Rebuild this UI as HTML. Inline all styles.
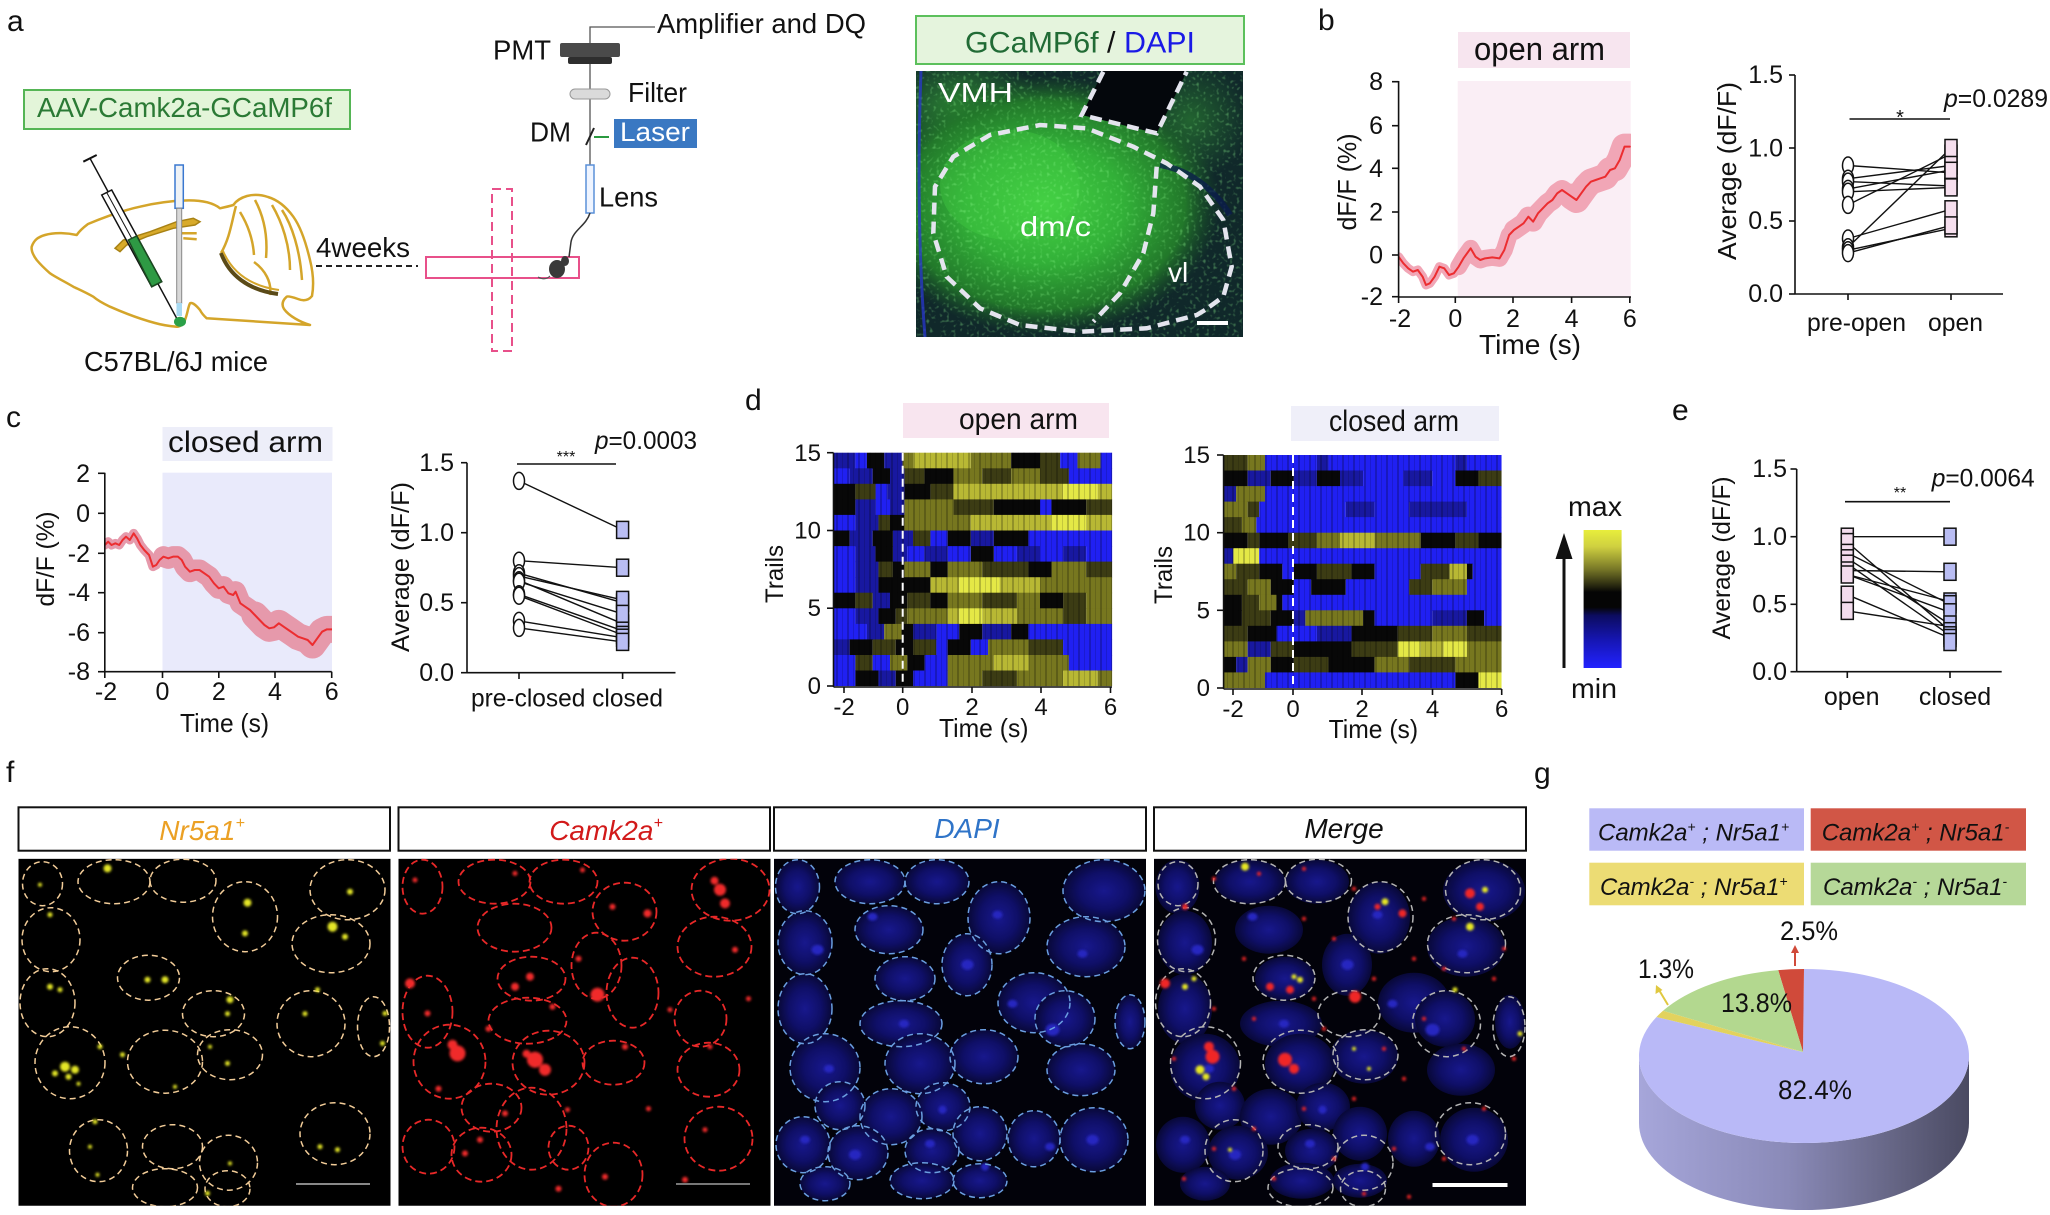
<!DOCTYPE html>
<html><head><meta charset="utf-8">
<style>
html,body{margin:0;padding:0;background:#fff;}
svg{display:block;}
text{font-family:"Liberation Sans",Arial,sans-serif;fill:#111;}
.B{fill:#2020f2}.DB{fill:#1818a0}.K{fill:#080808}.DO{fill:#3c3c14}.O{fill:#77771f}.Y{fill:#b8b834}.YY{fill:#e4e846}
</style></head><body>
<svg width="2050" height="1215" viewBox="0 0 2050 1215" xmlns="http://www.w3.org/2000/svg">
<defs>
<radialGradient id="nuc" cx="50%" cy="50%" r="50%"><stop offset="0" stop-color="#1c1ca4"/><stop offset=".6" stop-color="#121278"/><stop offset="1" stop-color="#0a0a40"/></radialGradient>
<radialGradient id="gg" cx="50%" cy="50%" r="50%"><stop offset="0" stop-color="#44d044"/><stop offset=".45" stop-color="#32b038"/><stop offset=".8" stop-color="#22782a"/><stop offset="1" stop-color="#1a5a26" stop-opacity="0"/></radialGradient>
<radialGradient id="gg2" cx="50%" cy="50%" r="50%"><stop offset="0" stop-color="#2e8c34"/><stop offset="1" stop-color="#2e8c34" stop-opacity="0"/></radialGradient>
<linearGradient id="cbar" x1="0" y1="0" x2="0" y2="1"><stop offset="0" stop-color="#e8ee3c"/><stop offset=".12" stop-color="#cfd040"/><stop offset=".28" stop-color="#7a7a28"/><stop offset=".4" stop-color="#2a2a10"/><stop offset=".45" stop-color="#050505"/><stop offset=".56" stop-color="#050505"/><stop offset=".62" stop-color="#0c0c60"/><stop offset=".8" stop-color="#1616b4"/><stop offset="1" stop-color="#2222ff"/></linearGradient>
<linearGradient id="side" x1="0" y1="0" x2="1" y2="0"><stop offset="0" stop-color="#a6a6da"/><stop offset=".45" stop-color="#8a8ab8"/><stop offset=".75" stop-color="#686888"/><stop offset="1" stop-color="#4a4a62"/></linearGradient>
<pattern id="vs" width="11" height="10" patternUnits="userSpaceOnUse"><rect x="0" width="2" height="10" fill="#000" opacity=".22"/><rect x="6" width="1" height="10" fill="#000" opacity=".14"/></pattern>
<filter id="glow" x="-20%" y="-20%" width="140%" height="140%"><feGaussianBlur stdDeviation="1.2"/></filter>
<filter id="spk" x="0" y="0" width="100%" height="100%"><feTurbulence type="fractalNoise" baseFrequency="0.3" numOctaves="1" seed="4"/><feColorMatrix type="matrix" values="0 0 0 0 0.3  0 0 0 0 1  0 0 0 0 0.3  4 0 0 0 -2.2"/></filter>
<clipPath id="clipB"><rect x="1399" y="60" width="232" height="237"/></clipPath>
<clipPath id="clipC"><rect x="105" y="460" width="227" height="212"/></clipPath>
<clipPath id="clipG"><rect x="916" y="71" width="327" height="266"/></clipPath>
<clipPath id="clipF"><rect x="0" y="0" width="372" height="347"/></clipPath>
<g id="cellsA">
<ellipse cx="24" cy="25" rx="20" ry="22"/><ellipse cx="95.5" cy="23" rx="36" ry="22"/><ellipse cx="164.5" cy="22" rx="33" ry="21.5"/><ellipse cx="226.5" cy="58" rx="32.5" ry="35"/><ellipse cx="329" cy="31" rx="37.5" ry="30"/><ellipse cx="32.5" cy="81" rx="29" ry="32"/><ellipse cx="312.5" cy="85" rx="39" ry="29"/><ellipse cx="130" cy="119" rx="31" ry="22.5"/><ellipse cx="29" cy="144" rx="27.5" ry="34"/><ellipse cx="195" cy="155" rx="31" ry="23"/><ellipse cx="292.5" cy="165" rx="34" ry="33"/><ellipse cx="355" cy="168" rx="16" ry="30"/><ellipse cx="51.5" cy="204" rx="35" ry="36"/><ellipse cx="146.5" cy="203" rx="37.5" ry="31.5"/><ellipse cx="211.5" cy="196" rx="32.5" ry="25"/><ellipse cx="316.5" cy="275" rx="35" ry="31"/><ellipse cx="80" cy="292" rx="29" ry="31"/><ellipse cx="154" cy="288" rx="30" ry="22"/><ellipse cx="210" cy="304" rx="29" ry="27.5"/><ellipse cx="146.5" cy="329" rx="32.5" ry="19"/><ellipse cx="209" cy="330" rx="22.5" ry="18"/>
</g>
<g id="cellsB">
<ellipse cx="24" cy="28" rx="20" ry="27"/><ellipse cx="96" cy="23" rx="36" ry="22"/><ellipse cx="165" cy="23" rx="34" ry="22"/><ellipse cx="332" cy="31" rx="39" ry="31"/><ellipse cx="116" cy="69" rx="37" ry="24"/><ellipse cx="226" cy="53" rx="32" ry="29"/><ellipse cx="316" cy="88" rx="37" ry="30"/><ellipse cx="29" cy="153" rx="25" ry="36"/><ellipse cx="133" cy="120" rx="34" ry="22"/><ellipse cx="198" cy="107" rx="25" ry="33"/><ellipse cx="234" cy="134" rx="26" ry="35"/><ellipse cx="302" cy="160" rx="26" ry="28"/><ellipse cx="129" cy="162" rx="39" ry="23"/><ellipse cx="51" cy="203" rx="36" ry="37"/><ellipse cx="150" cy="204" rx="36" ry="32"/><ellipse cx="215" cy="204" rx="31" ry="22"/><ellipse cx="310" cy="211" rx="31" ry="27"/><ellipse cx="93" cy="249" rx="30" ry="24"/><ellipse cx="133" cy="270" rx="35" ry="41"/><ellipse cx="320" cy="280" rx="34" ry="32"/><ellipse cx="30" cy="288" rx="26" ry="27"/><ellipse cx="83" cy="296" rx="30" ry="27"/><ellipse cx="215" cy="316" rx="29" ry="32"/><ellipse cx="170" cy="289" rx="20" ry="22"/>
</g>
<g id="cellsC">
<ellipse cx="23.5" cy="28" rx="22" ry="27"/><ellipse cx="96" cy="23" rx="35" ry="22"/><ellipse cx="163" cy="23" rx="32" ry="22"/><ellipse cx="225" cy="59" rx="31" ry="36"/><ellipse cx="330" cy="32" rx="41" ry="31"/><ellipse cx="31" cy="84" rx="27" ry="32"/><ellipse cx="115" cy="71" rx="34" ry="24"/><ellipse cx="312" cy="88" rx="39" ry="30"/><ellipse cx="131" cy="120" rx="30" ry="22"/><ellipse cx="193" cy="106" rx="25" ry="31"/><ellipse cx="31" cy="150" rx="27" ry="35"/><ellipse cx="260" cy="144" rx="36" ry="30"/><ellipse cx="127" cy="165" rx="41" ry="23"/><ellipse cx="291" cy="160" rx="30" ry="28"/><ellipse cx="356" cy="163" rx="15" ry="27"/><ellipse cx="51" cy="209" rx="35" ry="34"/><ellipse cx="146" cy="205" rx="35" ry="30"/><ellipse cx="210" cy="198" rx="34" ry="27"/><ellipse cx="307" cy="211" rx="34" ry="26"/><ellipse cx="66" cy="247" rx="25" ry="24"/><ellipse cx="117" cy="258" rx="31" ry="28"/><ellipse cx="169" cy="248" rx="27" ry="24"/><ellipse cx="29" cy="286" rx="27" ry="28"/><ellipse cx="84" cy="294" rx="30" ry="27"/><ellipse cx="158" cy="292" rx="27" ry="22"/><ellipse cx="206" cy="275" rx="27" ry="27"/><ellipse cx="260" cy="280" rx="26" ry="28"/><ellipse cx="320" cy="281" rx="34" ry="32"/><ellipse cx="206" cy="322" rx="27" ry="17"/><ellipse cx="148" cy="322" rx="32" ry="18"/><ellipse cx="51" cy="325" rx="25" ry="17"/>
</g>
<g id="spots">
<ellipse cx="43.5" cy="91" rx="6" ry="5"/><ellipse cx="98.5" cy="58" rx="5" ry="4"/><ellipse cx="193.5" cy="106" rx="6" ry="5"/><ellipse cx="223.5" cy="56" rx="5" ry="4"/><ellipse cx="278.5" cy="171" rx="7" ry="6"/><ellipse cx="238.5" cy="145" rx="5" ry="4"/><ellipse cx="31" cy="281" rx="5" ry="4"/><ellipse cx="81" cy="296" rx="6" ry="5"/><ellipse cx="156" cy="285" rx="5" ry="4"/><ellipse cx="318.5" cy="281" rx="6" ry="5"/><ellipse cx="211" cy="308" rx="4" ry="4"/><ellipse cx="276" cy="288" rx="5" ry="4"/><ellipse cx="308.5" cy="95" rx="5" ry="4"/><ellipse cx="168.5" cy="251" rx="4" ry="4"/><ellipse cx="130" cy="165" rx="5" ry="4"/><ellipse cx="55" cy="210" rx="5" ry="4"/>
</g>
</defs>

<rect width="2050" height="1215" fill="#fff"/>

<g font-size="30">
<text x="7" y="31">a</text><text x="1318" y="30">b</text><text x="6" y="427">c</text><text x="745" y="410">d</text><text x="1672" y="420">e</text><text x="6" y="782">f</text><text x="1534" y="783">g</text>
</g>

<!-- ============ PANEL A ============ -->
<rect x="24" y="90" width="326" height="39" fill="#e3f5d9" stroke="#55b555" stroke-width="2"/>
<text x="37" y="117" font-size="28" style="fill:#2b7a35" textLength="295" lengthAdjust="spacingAndGlyphs">AAV-Camk2a-GCaMP6f</text>

<g fill="none" stroke="#d4a52a" stroke-width="2.5" stroke-linejoin="round">
<path d="M31.7,246.7 C34,240 38,237 45,235 C55,232 68,233 76.7,235 C80,230 84,227 88,224 C100,219 120,211 140,206.7 C155,203 170,201 185,200.5 C200,200 212,202 220,208.3 C226,207 230,206 233.3,205 C236,201 240,198 247,196 C255,194 262,195 268,197 C278,200 287,208 293.3,216.7 C300,226 306,243 310,260 C313,272 314,285 312,296 C308,301 303,301 298,299 C292,297 288,296 286.7,296.7 C283,300 281,304 284,309 C289,316 300,322 310,325 L206.7,318.3 C203,315 201,312 200,310 C196,305 192,302 190,303.3 C188,307 188,312 185,320 C182,325 180,327 176.7,326.7 C168,326 162,325 155,323 C140,319 122,312 110,306.7 C100,302 96,299 93.3,296.7 C85,292 78,289 73.3,286.7 C62,280 55,277 50,273.3 C44,268 40,264 36.7,260 C33,255 31,251 31.7,246.7 Z"/>
<path d="M236,206 C232,220 230,238 221,253"/>
<path d="M240,212 C248,225 253,240 254,255 M255,200 C263,215 268,235 266,258 M272,205 C282,222 290,245 290,270 M282,210 C292,225 300,250 302,280 M254,262 C265,270 272,282 270,295"/>
<path d="M181.7,233.3 L196.7,233.3 M183.3,238.3 L196.7,239.3"/>
</g>
<path d="M221,253 C229,275 248,290 278,294" fill="none" stroke="#5a4a18" stroke-width="4"/>
<path d="M223,251 C232,272 250,286 279,290" fill="none" stroke="#d4a52a" stroke-width="2"/>
<path d="M115,248.3 L123.3,240 L150,231.7 L176.7,221.7 L193.3,218.3 L200,221.7 L195,225 L173.3,228.3 L146.7,236.7 L126.7,245 L120,251.7 Z" fill="#d8aa2a" stroke="#a88214" stroke-width="1.5"/>
<line x1="83.3" y1="161.7" x2="96.7" y2="155" stroke="#111" stroke-width="2"/>
<line x1="90" y1="158.3" x2="176.7" y2="318.3" stroke="#111" stroke-width="1.5"/>
<polygon points="101.7,195 111.7,190 161.7,281.7 151.7,286.7" fill="#fff" stroke="#111" stroke-width="1.5"/>
<line x1="106.7" y1="192.5" x2="156.7" y2="284.2" stroke="#111" stroke-width="1"/>
<polygon points="128.3,240 136.7,236 161.7,281.7 151.7,286.7" fill="#2e9a44" stroke="#1a4a20" stroke-width="1.5"/>
<rect x="175" y="165" width="8.3" height="43.3" fill="#eef2f6" stroke="#3a78d0" stroke-width="1.5"/>
<rect x="176.7" y="208.3" width="5" height="95" fill="#d8d8d8" stroke="#888" stroke-width="1"/>
<rect x="176.5" y="303" width="5.5" height="13" fill="#a8daf2"/>
<ellipse cx="180" cy="321.7" rx="6" ry="5" fill="#2aa048"/>

<text x="84" y="371" font-size="28" textLength="184" lengthAdjust="spacingAndGlyphs">C57BL/6J mice</text>
<line x1="316" y1="266" x2="418" y2="266" stroke="#222" stroke-width="2" stroke-dasharray="6 4"/>
<text x="316" y="257" font-size="28" textLength="94" lengthAdjust="spacingAndGlyphs">4weeks</text>
<rect x="426" y="257" width="153" height="21" fill="none" stroke="#e8508a" stroke-width="2"/>
<rect x="492" y="189" width="20" height="162" fill="none" stroke="#e8508a" stroke-width="2" stroke-dasharray="9 5"/>
<polyline points="590,213 590,27 655,27" fill="none" stroke="#555" stroke-width="1.3"/>
<rect x="560" y="43" width="60" height="14" rx="2" fill="#4a4a4a"/>
<rect x="568" y="57" width="44" height="7" rx="2" fill="#2e2e2e"/>
<rect x="570" y="89" width="40" height="10" rx="5" fill="#dadada" stroke="#999" stroke-width="1"/>
<line x1="586" y1="145" x2="594" y2="128" stroke="#222" stroke-width="2"/>
<line x1="594" y1="137" x2="609" y2="137" stroke="#2a9a40" stroke-width="2"/>
<rect x="614" y="119" width="83" height="29" fill="#3a78c2"/>
<text x="620" y="141" font-size="27" style="fill:#fff" textLength="70" lengthAdjust="spacingAndGlyphs">Laser</text>
<rect x="586" y="165" width="8" height="48" fill="#eef4ff" stroke="#5a90d8" stroke-width="1.5"/>
<path d="M590,213 C586,226 573,230 571,242 L569,257" fill="none" stroke="#333" stroke-width="1.5"/>
<ellipse cx="557" cy="269" rx="8" ry="9" fill="#3a3a3a"/>
<ellipse cx="565" cy="261" rx="4" ry="5" fill="#3a3a3a"/>
<path d="M550,276 Q545,281 538,277" fill="none" stroke="#555" stroke-width="1.2"/>
<text x="493" y="59.5" font-size="28" textLength="58" lengthAdjust="spacingAndGlyphs">PMT</text>
<text x="657" y="33" font-size="28" textLength="209" lengthAdjust="spacingAndGlyphs">Amplifier and DQ</text>
<text x="628" y="102" font-size="28" textLength="59" lengthAdjust="spacingAndGlyphs">Filter</text>
<text x="530" y="141.7" font-size="28" textLength="41" lengthAdjust="spacingAndGlyphs">DM</text>
<text x="599" y="206.7" font-size="28" textLength="59" lengthAdjust="spacingAndGlyphs">Lens</text>

<rect x="916" y="16" width="328" height="48" fill="#e5f4dd" stroke="#5cc05c" stroke-width="2"/>
<text x="965" y="52.7" font-size="30" textLength="230" lengthAdjust="spacingAndGlyphs"><tspan style="fill:#216b35">GCaMP6f</tspan><tspan style="fill:#111"> / </tspan><tspan style="fill:#1a1ae6">DAPI</tspan></text>
<g clip-path="url(#clipG)">
<rect x="916" y="71" width="327" height="266" fill="#10282a"/>
<ellipse cx="960" cy="110" rx="80" ry="60" fill="url(#gg2)"/>
<ellipse cx="1190" cy="120" rx="60" ry="60" fill="url(#gg2)" opacity=".6"/>
<ellipse cx="1045" cy="205" rx="175" ry="130" fill="url(#gg)"/>
<ellipse cx="1010" cy="185" rx="70" ry="55" fill="#46d246" opacity=".35"/>
<rect x="916" y="71" width="327" height="266" filter="url(#spk)" opacity=".35"/>
<path d="M921,71 C918,150 918,250 925,337" fill="none" stroke="#2a36d8" stroke-width="3" opacity=".7"/>
<path d="M1160,165 C1190,170 1215,190 1230,215" fill="none" stroke="#0a1a50" stroke-width="6" opacity=".7"/>
<polygon points="1103.3,71 1187,71 1156.7,133.3 1081.7,115" fill="#04070c"/>
<g fill="none" stroke="#e4e4ee" stroke-width="4.5" stroke-dasharray="12 7">
<polyline points="1103.3,71.7 1081.7,115 1156.7,133.3 1186.7,71.7"/>
<path d="M1205,310 L1196.7,315 L1146.7,328.3 L1080,331.7 L1020,325 L980,308.3 L946.7,276.7 L933.3,233.3 L935,186.7 L953.3,156.7 L990,135 L1040,125 L1086.7,128.3 L1133.3,146.7 L1166.7,163.3 L1200,186.7 L1223.3,220 L1231.7,266.7 L1223.3,296.7 L1205,310"/>
<path d="M1156.7,166.7 L1153.3,213.3 L1143.3,253.3 L1120,293.3 L1093.3,321.7"/>
</g>
<text x="938" y="102" font-size="28" style="fill:#fff" textLength="75" lengthAdjust="spacingAndGlyphs">VMH</text>
<text x="1020" y="236" font-size="28" style="fill:#fff" textLength="71" lengthAdjust="spacingAndGlyphs">dm/c</text>
<text x="1168" y="282" font-size="28" style="fill:#fff">vl</text>
<line x1="1197" y1="323" x2="1228" y2="323" stroke="#fff" stroke-width="4"/>
</g>

<!-- ============ PANEL B ============ -->
<rect x="1458" y="32" width="172" height="36" fill="#f7e5ef"/>
<text x="1474" y="60" font-size="32" textLength="131" lengthAdjust="spacingAndGlyphs">open arm</text>
<rect x="1457.7" y="81" width="173" height="216" fill="#faeef5"/>
<g clip-path="url(#clipB)">
<g transform="translate(1300,0) scale(0.48077,0.33333)" fill="none" stroke-linejoin="round" stroke-linecap="round">
<path vector-effect="non-scaling-stroke" stroke="#f1a6b6" stroke-width="9" d="M205,770 L215,790 L225,805 L235,815 L245,810 L255,830 L262,855 L270,850 L280,830 L290,800 L300,805 L310,825 L320,820 L330,800"/>
<path vector-effect="non-scaling-stroke" stroke="#f1a6b6" stroke-width="17" d="M330,800 L340,775 L355,745 L365,770 L375,780 L385,775 L400,772 L415,775 L425,750 L435,705 L445,690"/>
<path vector-effect="non-scaling-stroke" stroke="#f1a6b6" stroke-width="20" d="M445,690 L455,680 L465,670 L475,650 L485,665 L495,640 L505,625 L515,610 L525,600 L535,580 L545,570 L555,580 L565,590"/>
<path vector-effect="non-scaling-stroke" stroke="#f1a6b6" stroke-width="26" d="M565,590 L575,600 L585,580 L595,560 L605,545 L615,540 L625,535 L635,530 L645,510 L655,505 L665,480 L675,440 L686,440"/>
<path vector-effect="non-scaling-stroke" stroke="#ec2d30" stroke-width="2" d="M205,770 L215,790 L225,805 L235,815 L245,810 L255,830 L262,855 L270,850 L280,830 L290,800 L300,805 L310,825 L320,820 L330,800 L340,775 L355,745 L365,770 L375,780 L385,775 L400,772 L415,775 L425,750 L435,705 L445,690 L455,680 L465,670 L475,650 L485,665 L495,640 L505,625 L515,610 L525,600 L535,580 L545,570 L555,580 L565,590 L575,600 L585,580 L595,560 L605,545 L615,540 L625,535 L635,530 L645,510 L655,505 L665,480 L675,440 L686,440"/>
</g>
</g>
<g stroke="#111" stroke-width="1.6">
<line x1="1398.6" y1="81" x2="1398.6" y2="297"/><line x1="1398.6" y1="297" x2="1631" y2="297"/>
<line x1="1392" y1="81.7" x2="1398.6" y2="81.7"/><line x1="1392" y1="125.7" x2="1398.6" y2="125.7"/><line x1="1392" y1="168.3" x2="1398.6" y2="168.3"/><line x1="1392" y1="212" x2="1398.6" y2="212"/><line x1="1392" y1="255" x2="1398.6" y2="255"/><line x1="1392" y1="296.7" x2="1398.6" y2="296.7"/>
<line x1="1398.6" y1="297" x2="1398.6" y2="303"/><line x1="1455.3" y1="297" x2="1455.3" y2="303"/><line x1="1513" y1="297" x2="1513" y2="303"/><line x1="1571.6" y1="297" x2="1571.6" y2="303"/><line x1="1629.8" y1="297" x2="1629.8" y2="303"/>
</g>
<g font-size="25" text-anchor="end">
<text x="1383" y="90">8</text><text x="1383" y="134">6</text><text x="1383" y="177">4</text><text x="1383" y="220.5">2</text><text x="1383" y="263.5">0</text><text x="1383" y="305">-2</text>
</g>
<g font-size="25" text-anchor="middle">
<text x="1400" y="327">-2</text><text x="1455.3" y="327">0</text><text x="1513" y="327">2</text><text x="1571.6" y="327">4</text><text x="1629.8" y="327">6</text>
</g>
<text x="1530" y="354" font-size="28" text-anchor="middle" textLength="102" lengthAdjust="spacingAndGlyphs">Time (s)</text>
<text transform="translate(1356,182) rotate(-90)" font-size="26" text-anchor="middle" textLength="97" lengthAdjust="spacingAndGlyphs">dF/F (%)</text>

<g stroke="#111" stroke-width="1.6">
<line x1="1795" y1="75" x2="1795" y2="294"/><line x1="1795" y1="294" x2="2003" y2="294"/>
<line x1="1789" y1="75" x2="1795" y2="75"/><line x1="1789" y1="148" x2="1795" y2="148"/><line x1="1789" y1="221" x2="1795" y2="221"/><line x1="1789" y1="294" x2="1795" y2="294"/>
<line x1="1848" y1="294" x2="1848" y2="300"/><line x1="1951" y1="294" x2="1951" y2="300"/>
<line x1="1849.5" y1="119" x2="1950" y2="119"/>
</g>
<g font-size="25" text-anchor="end">
<text x="1783" y="83">1.5</text><text x="1783" y="156.5">1.0</text><text x="1783" y="229">0.5</text><text x="1783" y="302">0.0</text>
</g>
<text x="1900" y="124" font-size="20" text-anchor="middle">*</text>
<text x="1944" y="107" font-size="25" textLength="104" lengthAdjust="spacingAndGlyphs"><tspan font-style="italic">p</tspan>=0.0289</text>
<text x="1807" y="331" font-size="25" textLength="99" lengthAdjust="spacingAndGlyphs">pre-open</text>
<text x="1928" y="331" font-size="25" textLength="55" lengthAdjust="spacingAndGlyphs">open</text>
<text transform="translate(1736,171) rotate(-90)" font-size="26" text-anchor="middle" textLength="178" lengthAdjust="spacingAndGlyphs">Average (dF/F)</text>
<g stroke="#111" stroke-width="1.4">
<line x1="1848" y1="165.5" x2="1951" y2="172.8"/><line x1="1848" y1="178.7" x2="1951" y2="165.5"/><line x1="1848" y1="181.6" x2="1951" y2="186"/><line x1="1848" y1="188.9" x2="1951" y2="169.9"/><line x1="1848" y1="191.8" x2="1951" y2="187.4"/><line x1="1848" y1="204.9" x2="1951" y2="153.8"/><line x1="1848" y1="238.5" x2="1951" y2="209.3"/><line x1="1848" y1="247.3" x2="1951" y2="148"/><line x1="1848" y1="250.2" x2="1951" y2="228.3"/><line x1="1848" y1="253.1" x2="1951" y2="225.4"/>
</g>
<g fill="#fff" stroke="#111" stroke-width="1.5">
<ellipse cx="1848" cy="165.5" rx="5.5" ry="8.5"/><ellipse cx="1848" cy="178.7" rx="5.5" ry="8.5"/><ellipse cx="1848" cy="181.6" rx="5.5" ry="8.5"/><ellipse cx="1848" cy="188.9" rx="5.5" ry="8.5"/><ellipse cx="1848" cy="191.8" rx="5.5" ry="8.5"/><ellipse cx="1848" cy="204.9" rx="5.5" ry="8.5"/><ellipse cx="1848" cy="238.5" rx="5.5" ry="8.5"/><ellipse cx="1848" cy="247.3" rx="5.5" ry="8.5"/><ellipse cx="1848" cy="250.2" rx="5.5" ry="8.5"/><ellipse cx="1848" cy="253.1" rx="5.5" ry="8.5"/>
</g>
<g fill="#f6dfee" stroke="#111" stroke-width="1.5">
<rect x="1945" y="164.3" width="12" height="17"/><rect x="1945" y="157" width="12" height="17"/><rect x="1945" y="177.5" width="12" height="17"/><rect x="1945" y="161.4" width="12" height="17"/><rect x="1945" y="178.9" width="12" height="17"/><rect x="1945" y="145.3" width="12" height="17"/><rect x="1945" y="200.8" width="12" height="17"/><rect x="1945" y="139.5" width="12" height="17"/><rect x="1945" y="219.8" width="12" height="17"/><rect x="1945" y="216.9" width="12" height="17"/>
</g>

<!-- ============ PANEL C ============ -->
<rect x="162.5" y="427" width="170" height="34" fill="#edeef9"/>
<text x="168" y="452" font-size="30" textLength="155" lengthAdjust="spacingAndGlyphs">closed arm</text>
<rect x="162.5" y="472.7" width="169.5" height="199" fill="#e9eafb"/>
<g clip-path="url(#clipC)">
<g transform="translate(0,390) scale(0.48077,0.33333)" fill="none" stroke-linejoin="round" stroke-linecap="round">
<path vector-effect="non-scaling-stroke" stroke="#e699ab" stroke-width="9" d="M218,465 L225,455 L232,465 L240,460 L248,465 L255,450 L262,440 L270,450 L278,430 L285,445 L292,465 L300,480 L310,495 L318,530 L325,525 L332,510 L340,500"/>
<path vector-effect="non-scaling-stroke" stroke="#e699ab" stroke-width="21" d="M340,500 L350,505 L360,500 L370,500 L378,510 L385,530 L395,545 L405,540 L415,540 L425,550 L435,560 L445,580 L455,595 L465,590 L475,610 L485,615 L490,605 L500,640 L510,650 L520,660 L530,675"/>
<path vector-effect="non-scaling-stroke" stroke="#e699ab" stroke-width="27" d="M530,675 L540,690 L550,705 L560,715 L570,712 L580,700 L590,710 L600,720 L610,730 L620,740 L630,745 L640,750 L650,765 L660,745 L670,725 L680,718 L690,718"/>
<path vector-effect="non-scaling-stroke" stroke="#ec2d30" stroke-width="2" d="M218,465 L225,455 L232,465 L240,460 L248,465 L255,450 L262,440 L270,450 L278,430 L285,445 L292,465 L300,480 L310,495 L318,530 L325,525 L332,510 L340,500 L350,505 L360,500 L370,500 L378,510 L385,530 L395,545 L405,540 L415,540 L425,550 L435,560 L445,580 L455,595 L465,590 L475,610 L485,615 L490,605 L500,640 L510,650 L520,660 L530,675 L540,690 L550,705 L560,715 L570,712 L580,700 L590,710 L600,720 L610,730 L620,740 L630,745 L640,750 L650,765 L660,745 L670,725 L680,718 L690,718"/>
</g>
</g>
<g stroke="#111" stroke-width="1.6">
<line x1="104.8" y1="472.7" x2="104.8" y2="671.7"/><line x1="104.8" y1="671.7" x2="331.7" y2="671.7"/>
<line x1="98" y1="473.3" x2="104.8" y2="473.3"/><line x1="98" y1="513.3" x2="104.8" y2="513.3"/><line x1="98" y1="553.3" x2="104.8" y2="553.3"/><line x1="98" y1="592.7" x2="104.8" y2="592.7"/><line x1="98" y1="632.7" x2="104.8" y2="632.7"/><line x1="98" y1="671.7" x2="104.8" y2="671.7"/>
<line x1="104.8" y1="671.7" x2="104.8" y2="678"/><line x1="162.5" y1="671.7" x2="162.5" y2="678"/><line x1="218.8" y1="671.7" x2="218.8" y2="678"/><line x1="275" y1="671.7" x2="275" y2="678"/><line x1="331.7" y1="671.7" x2="331.7" y2="678"/>
</g>
<g font-size="25" text-anchor="end">
<text x="90" y="481.8">2</text><text x="90" y="521.8">0</text><text x="90" y="561.8">-2</text><text x="90" y="601.2">-4</text><text x="90" y="641.2">-6</text><text x="90" y="680.2">-8</text>
</g>
<g font-size="25" text-anchor="middle">
<text x="106" y="700">-2</text><text x="162.5" y="700">0</text><text x="218.8" y="700">2</text><text x="275" y="700">4</text><text x="331.7" y="700">6</text>
</g>
<text x="180" y="732" font-size="26" textLength="89" lengthAdjust="spacingAndGlyphs">Time (s)</text>
<text transform="translate(54,559) rotate(-90)" font-size="25" text-anchor="middle" textLength="95" lengthAdjust="spacingAndGlyphs">dF/F (%)</text>

<g stroke="#111" stroke-width="1.6">
<line x1="467" y1="462.7" x2="467" y2="672.7"/><line x1="467" y1="672.7" x2="675.5" y2="672.7"/>
<line x1="461" y1="462.7" x2="467" y2="462.7"/><line x1="461" y1="532.7" x2="467" y2="532.7"/><line x1="461" y1="602.7" x2="467" y2="602.7"/><line x1="461" y1="672.7" x2="467" y2="672.7"/>
<line x1="519" y1="672.7" x2="519" y2="679"/><line x1="622.6" y1="672.7" x2="622.6" y2="679"/>
<line x1="517" y1="464" x2="616" y2="464"/>
</g>
<g font-size="25" text-anchor="end">
<text x="454" y="471">1.5</text><text x="454" y="541">1.0</text><text x="454" y="611">0.5</text><text x="454" y="681">0.0</text>
</g>
<text x="566" y="462" font-size="16" text-anchor="middle">***</text>
<text x="595" y="449" font-size="25" textLength="102" lengthAdjust="spacingAndGlyphs"><tspan font-style="italic">p</tspan>=0.0003</text>
<text x="471" y="706.7" font-size="25" textLength="192" lengthAdjust="spacingAndGlyphs">pre-closed closed</text>
<text transform="translate(409,567) rotate(-90)" font-size="25" text-anchor="middle" textLength="170" lengthAdjust="spacingAndGlyphs">Average (dF/F)</text>
<g stroke="#111" stroke-width="1.4">
<line x1="519" y1="480.9" x2="622.6" y2="529.9"/><line x1="519" y1="560.7" x2="622.6" y2="567.7"/><line x1="519" y1="573.3" x2="622.6" y2="602.7"/><line x1="519" y1="576.1" x2="622.6" y2="599.9"/><line x1="519" y1="580.3" x2="622.6" y2="623.7"/><line x1="519" y1="581.7" x2="622.6" y2="613.9"/><line x1="519" y1="594.3" x2="622.6" y2="630.7"/><line x1="519" y1="595.7" x2="622.6" y2="634.9"/><line x1="519" y1="620.9" x2="622.6" y2="637.7"/><line x1="519" y1="627.9" x2="622.6" y2="641.9"/>
</g>
<g fill="#fff" stroke="#111" stroke-width="1.5">
<ellipse cx="519" cy="480.9" rx="5.5" ry="8.5"/><ellipse cx="519" cy="560.7" rx="5.5" ry="8.5"/><ellipse cx="519" cy="573.3" rx="5.5" ry="8.5"/><ellipse cx="519" cy="576.1" rx="5.5" ry="8.5"/><ellipse cx="519" cy="580.3" rx="5.5" ry="8.5"/><ellipse cx="519" cy="581.7" rx="5.5" ry="8.5"/><ellipse cx="519" cy="594.3" rx="5.5" ry="8.5"/><ellipse cx="519" cy="595.7" rx="5.5" ry="8.5"/><ellipse cx="519" cy="620.9" rx="5.5" ry="8.5"/><ellipse cx="519" cy="627.9" rx="5.5" ry="8.5"/>
</g>
<g fill="#b9bdf3" stroke="#111" stroke-width="1.5">
<rect x="616.6" y="521.4" width="12" height="17"/><rect x="616.6" y="559.2" width="12" height="17"/><rect x="616.6" y="594.2" width="12" height="17"/><rect x="616.6" y="591.4" width="12" height="17"/><rect x="616.6" y="615.2" width="12" height="17"/><rect x="616.6" y="605.4" width="12" height="17"/><rect x="616.6" y="622.2" width="12" height="17"/><rect x="616.6" y="626.4" width="12" height="17"/><rect x="616.6" y="629.2" width="12" height="17"/><rect x="616.6" y="633.4" width="12" height="17"/>
</g>

<!-- ============ PANEL D ============ -->
<rect x="903" y="403" width="206" height="35" fill="#f8e5ef"/>
<text x="959" y="429" font-size="30" textLength="119" lengthAdjust="spacingAndGlyphs">open arm</text>
<rect x="1291" y="406" width="208" height="35" fill="#efeff9"/>
<text x="1329" y="431" font-size="30" textLength="130" lengthAdjust="spacingAndGlyphs">closed arm</text>

<g transform="translate(740,0) scale(0.57692,1)">
<g transform="translate(0,452.7)"><rect class="DB" x="162" width="38" height="16"/><rect class="B" x="200" width="20" height="16"/><rect class="K" x="220" width="30" height="16"/><rect class="DB" x="250" width="32" height="16"/><rect class="O" x="282" width="18" height="16"/><rect class="Y" x="300" width="100" height="16"/><rect class="O" x="400" width="70" height="16"/><rect class="K" x="470" width="50" height="16"/><rect class="DO" x="520" width="35" height="16"/><rect class="B" x="555" width="30" height="16"/><rect class="O" x="585" width="40" height="16"/><rect class="B" x="625" width="20" height="16"/></g>
<g transform="translate(0,468.3)"><rect class="B" x="162" width="28" height="16"/><rect class="DB" x="190" width="40" height="16"/><rect class="K" x="230" width="30" height="16"/><rect class="DB" x="260" width="25" height="16"/><rect class="DO" x="285" width="35" height="16"/><rect class="K" x="320" width="50" height="16"/><rect class="O" x="370" width="50" height="16"/><rect class="DO" x="420" width="50" height="16"/><rect class="O" x="470" width="50" height="16"/><rect class="DO" x="520" width="50" height="16"/><rect class="B" x="570" width="75" height="16"/></g>
<g transform="translate(0,483.8)"><rect class="K" x="162" width="38" height="16"/><rect class="DO" x="200" width="35" height="16"/><rect class="B" x="235" width="20" height="16"/><rect class="DB" x="255" width="30" height="16"/><rect class="K" x="285" width="45" height="16"/><rect class="DO" x="330" width="40" height="16"/><rect class="Y" x="370" width="190" height="16"/><rect class="YY" x="560" width="60" height="16"/><rect class="Y" x="620" width="25" height="16"/></g>
<g transform="translate(0,499.4)"><rect class="K" x="162" width="38" height="16"/><rect class="DB" x="200" width="35" height="16"/><rect class="B" x="235" width="25" height="16"/><rect class="DB" x="260" width="25" height="16"/><rect class="O" x="285" width="85" height="16"/><rect class="DO" x="370" width="70" height="16"/><rect class="K" x="440" width="80" height="16"/><rect class="B" x="520" width="20" height="16"/><rect class="K" x="540" width="60" height="16"/><rect class="DO" x="600" width="45" height="16"/></g>
<g transform="translate(0,514.9)"><rect class="B" x="162" width="38" height="16"/><rect class="DB" x="200" width="40" height="16"/><rect class="DO" x="240" width="20" height="16"/><rect class="K" x="260" width="25" height="16"/><rect class="O" x="285" width="115" height="16"/><rect class="Y" x="400" width="140" height="16"/><rect class="YY" x="540" width="60" height="16"/><rect class="Y" x="600" width="45" height="16"/></g>
<g transform="translate(0,530.5)"><rect class="K" x="162" width="28" height="16"/><rect class="DB" x="190" width="40" height="16"/><rect class="K" x="230" width="35" height="16"/><rect class="DB" x="265" width="35" height="16"/><rect class="DO" x="300" width="30" height="16"/><rect class="B" x="330" width="30" height="16"/><rect class="K" x="360" width="40" height="16"/><rect class="DB" x="400" width="40" height="16"/><rect class="K" x="440" width="60" height="16"/><rect class="B" x="500" width="145" height="16"/></g>
<g transform="translate(0,546.1)"><rect class="B" x="162" width="38" height="16"/><rect class="DB" x="200" width="35" height="16"/><rect class="K" x="235" width="30" height="16"/><rect class="DB" x="265" width="25" height="16"/><rect class="B" x="290" width="30" height="16"/><rect class="DB" x="320" width="40" height="16"/><rect class="B" x="360" width="40" height="16"/><rect class="K" x="400" width="40" height="16"/><rect class="B" x="440" width="40" height="16"/><rect class="DB" x="480" width="40" height="16"/><rect class="B" x="520" width="40" height="16"/><rect class="DB" x="560" width="40" height="16"/><rect class="B" x="600" width="45" height="16"/></g>
<g transform="translate(0,561.6)"><rect class="B" x="162" width="38" height="16"/><rect class="DB" x="200" width="40" height="16"/><rect class="DO" x="240" width="25" height="16"/><rect class="K" x="265" width="20" height="16"/><rect class="O" x="285" width="45" height="16"/><rect class="K" x="330" width="30" height="16"/><rect class="O" x="360" width="60" height="16"/><rect class="DO" x="420" width="80" height="16"/><rect class="K" x="500" width="40" height="16"/><rect class="O" x="540" width="60" height="16"/><rect class="DO" x="600" width="45" height="16"/></g>
<g transform="translate(0,577.2)"><rect class="B" x="162" width="38" height="16"/><rect class="DB" x="200" width="40" height="16"/><rect class="K" x="240" width="90" height="16"/><rect class="Y" x="330" width="50" height="16"/><rect class="YY" x="380" width="70" height="16"/><rect class="Y" x="450" width="70" height="16"/><rect class="O" x="520" width="125" height="16"/></g>
<g transform="translate(0,592.7)"><rect class="K" x="162" width="38" height="16"/><rect class="DO" x="200" width="30" height="16"/><rect class="DB" x="230" width="30" height="16"/><rect class="K" x="260" width="30" height="16"/><rect class="DO" x="290" width="40" height="16"/><rect class="K" x="330" width="30" height="16"/><rect class="O" x="360" width="60" height="16"/><rect class="DO" x="420" width="60" height="16"/><rect class="O" x="480" width="40" height="16"/><rect class="K" x="520" width="40" height="16"/><rect class="DO" x="560" width="40" height="16"/><rect class="O" x="600" width="45" height="16"/></g>
<g transform="translate(0,608.3)"><rect class="B" x="162" width="38" height="16"/><rect class="DB" x="200" width="40" height="16"/><rect class="K" x="240" width="30" height="16"/><rect class="DO" x="270" width="20" height="16"/><rect class="O" x="290" width="70" height="16"/><rect class="Y" x="360" width="20" height="16"/><rect class="YY" x="380" width="40" height="16"/><rect class="Y" x="420" width="60" height="16"/><rect class="O" x="480" width="80" height="16"/><rect class="DO" x="560" width="40" height="16"/><rect class="O" x="600" width="45" height="16"/></g>
<g transform="translate(0,623.9)"><rect class="B" x="162" width="58" height="16"/><rect class="DB" x="220" width="30" height="16"/><rect class="O" x="250" width="30" height="16"/><rect class="K" x="280" width="20" height="16"/><rect class="DB" x="300" width="40" height="16"/><rect class="B" x="340" width="40" height="16"/><rect class="K" x="380" width="40" height="16"/><rect class="DB" x="420" width="50" height="16"/><rect class="K" x="470" width="30" height="16"/><rect class="B" x="500" width="145" height="16"/></g>
<g transform="translate(0,639.4)"><rect class="DB" x="162" width="28" height="16"/><rect class="K" x="190" width="40" height="16"/><rect class="DO" x="230" width="40" height="16"/><rect class="K" x="270" width="30" height="16"/><rect class="DO" x="300" width="40" height="16"/><rect class="B" x="340" width="20" height="16"/><rect class="K" x="360" width="40" height="16"/><rect class="B" x="400" width="30" height="16"/><rect class="O" x="430" width="70" height="16"/><rect class="DO" x="500" width="60" height="16"/><rect class="B" x="560" width="85" height="16"/></g>
<g transform="translate(0,655)"><rect class="B" x="162" width="38" height="16"/><rect class="DO" x="200" width="30" height="16"/><rect class="B" x="230" width="30" height="16"/><rect class="O" x="260" width="30" height="16"/><rect class="K" x="290" width="30" height="16"/><rect class="B" x="320" width="40" height="16"/><rect class="O" x="360" width="80" height="16"/><rect class="Y" x="440" width="60" height="16"/><rect class="O" x="500" width="70" height="16"/><rect class="B" x="570" width="75" height="16"/></g>
<g transform="translate(0,670.5)"><rect class="B" x="162" width="38" height="15.6"/><rect class="K" x="200" width="40" height="15.6"/><rect class="DB" x="240" width="30" height="15.6"/><rect class="K" x="270" width="30" height="15.6"/><rect class="B" x="300" width="60" height="15.6"/><rect class="O" x="360" width="60" height="15.6"/><rect class="DO" x="420" width="60" height="15.6"/><rect class="O" x="480" width="80" height="15.6"/><rect class="Y" x="560" width="60" height="15.6"/><rect class="O" x="620" width="25" height="15.6"/></g>

<g transform="translate(0,455)"><rect class="DO" x="838" width="42" height="16"/><rect class="O" x="880" width="30" height="16"/><rect class="B" x="910" width="90" height="16"/><rect class="DB" x="1000" width="20" height="16"/><rect class="B" x="1020" width="220" height="16"/><rect class="DB" x="1240" width="20" height="16"/><rect class="B" x="1260" width="60" height="16"/></g>
<g transform="translate(0,470.5)"><rect class="K" x="838" width="42" height="16"/><rect class="DB" x="880" width="40" height="16"/><rect class="K" x="920" width="40" height="16"/><rect class="DB" x="960" width="40" height="16"/><rect class="K" x="1000" width="40" height="16"/><rect class="DB" x="1040" width="40" height="16"/><rect class="B" x="1080" width="70" height="16"/><rect class="DB" x="1150" width="50" height="16"/><rect class="B" x="1200" width="40" height="16"/><rect class="K" x="1240" width="40" height="16"/><rect class="DO" x="1280" width="40" height="16"/></g>
<g transform="translate(0,486.1)"><rect class="DB" x="838" width="22" height="16"/><rect class="O" x="860" width="50" height="16"/><rect class="B" x="910" width="410" height="16"/></g>
<g transform="translate(0,501.6)"><rect class="O" x="838" width="42" height="16"/><rect class="DO" x="880" width="20" height="16"/><rect class="B" x="900" width="150" height="16"/><rect class="DB" x="1050" width="50" height="16"/><rect class="B" x="1100" width="60" height="16"/><rect class="DB" x="1160" width="100" height="16"/><rect class="B" x="1260" width="60" height="16"/></g>
<g transform="translate(0,517.1)"><rect class="DO" x="838" width="32" height="16"/><rect class="O" x="870" width="25" height="16"/><rect class="B" x="895" width="425" height="16"/></g>
<g transform="translate(0,532.7)"><rect class="K" x="838" width="42" height="16"/><rect class="DO" x="880" width="20" height="16"/><rect class="K" x="900" width="50" height="16"/><rect class="DO" x="950" width="50" height="16"/><rect class="O" x="1000" width="40" height="16"/><rect class="Y" x="1040" width="60" height="16"/><rect class="O" x="1100" width="80" height="16"/><rect class="K" x="1180" width="60" height="16"/><rect class="DO" x="1240" width="40" height="16"/><rect class="K" x="1280" width="40" height="16"/></g>
<g transform="translate(0,548.2)"><rect class="DB" x="838" width="17" height="16"/><rect class="YY" x="855" width="45" height="16"/><rect class="B" x="900" width="420" height="16"/></g>
<g transform="translate(0,563.7)"><rect class="O" x="838" width="22" height="16"/><rect class="DO" x="860" width="40" height="16"/><rect class="K" x="900" width="40" height="16"/><rect class="B" x="940" width="20" height="16"/><rect class="K" x="960" width="40" height="16"/><rect class="DO" x="1000" width="60" height="16"/><rect class="K" x="1060" width="40" height="16"/><rect class="B" x="1100" width="80" height="16"/><rect class="DO" x="1180" width="50" height="16"/><rect class="Y" x="1230" width="30" height="16"/><rect class="K" x="1260" width="10" height="16"/><rect class="B" x="1270" width="50" height="16"/></g>
<g transform="translate(0,579.2)"><rect class="DO" x="838" width="42" height="16"/><rect class="O" x="880" width="40" height="16"/><rect class="K" x="920" width="40" height="16"/><rect class="B" x="960" width="30" height="16"/><rect class="K" x="990" width="60" height="16"/><rect class="B" x="1050" width="110" height="16"/><rect class="DO" x="1160" width="40" height="16"/><rect class="O" x="1200" width="60" height="16"/><rect class="B" x="1260" width="60" height="16"/></g>
<g transform="translate(0,594.8)"><rect class="K" x="838" width="32" height="16"/><rect class="DO" x="870" width="30" height="16"/><rect class="O" x="900" width="30" height="16"/><rect class="K" x="930" width="10" height="16"/><rect class="B" x="940" width="380" height="16"/></g>
<g transform="translate(0,610.3)"><rect class="K" x="838" width="32" height="16"/><rect class="DO" x="870" width="50" height="16"/><rect class="K" x="920" width="40" height="16"/><rect class="DB" x="960" width="20" height="16"/><rect class="O" x="980" width="100" height="16"/><rect class="K" x="1080" width="20" height="16"/><rect class="B" x="1100" width="100" height="16"/><rect class="DB" x="1200" width="60" height="16"/><rect class="K" x="1260" width="30" height="16"/><rect class="B" x="1290" width="30" height="16"/></g>
<g transform="translate(0,625.8)"><rect class="DO" x="838" width="42" height="16"/><rect class="K" x="880" width="50" height="16"/><rect class="B" x="930" width="70" height="16"/><rect class="DB" x="1000" width="60" height="16"/><rect class="K" x="1060" width="80" height="16"/><rect class="DO" x="1140" width="60" height="16"/><rect class="O" x="1200" width="60" height="16"/><rect class="DO" x="1260" width="60" height="16"/></g>
<g transform="translate(0,641.4)"><rect class="O" x="838" width="42" height="16"/><rect class="DB" x="880" width="40" height="16"/><rect class="DO" x="920" width="40" height="16"/><rect class="K" x="960" width="100" height="16"/><rect class="DO" x="1060" width="80" height="16"/><rect class="YY" x="1140" width="40" height="16"/><rect class="Y" x="1180" width="40" height="16"/><rect class="YY" x="1220" width="40" height="16"/><rect class="O" x="1260" width="60" height="16"/></g>
<g transform="translate(0,656.9)"><rect class="K" x="838" width="22" height="16"/><rect class="DB" x="860" width="20" height="16"/><rect class="O" x="880" width="40" height="16"/><rect class="K" x="920" width="40" height="16"/><rect class="DO" x="960" width="60" height="16"/><rect class="K" x="1020" width="80" height="16"/><rect class="O" x="1100" width="60" height="16"/><rect class="DO" x="1160" width="80" height="16"/><rect class="O" x="1240" width="80" height="16"/></g>
<g transform="translate(0,672.4)"><rect class="O" x="838" width="72" height="15.6"/><rect class="B" x="910" width="330" height="15.6"/><rect class="K" x="1240" width="40" height="15.6"/><rect class="YY" x="1280" width="40" height="15.6"/></g>
</g>
<rect x="833.5" y="452.7" width="278.5" height="233.4" fill="url(#vs)"/>
<rect x="1223.6" y="455" width="278.1" height="233" fill="url(#vs)"/>
<line x1="902.7" y1="452.7" x2="902.7" y2="686" stroke="#fff" stroke-width="2" stroke-dasharray="8 5"/>
<line x1="1293" y1="455" x2="1293" y2="688" stroke="#fff" stroke-width="2" stroke-dasharray="8 5"/>
<g stroke="#111" stroke-width="1.6">
<line x1="833.5" y1="452.7" x2="833.5" y2="687"/><line x1="833.5" y1="687" x2="1112" y2="687"/>
<line x1="827" y1="452.7" x2="833.5" y2="452.7"/><line x1="827" y1="530.5" x2="833.5" y2="530.5"/><line x1="827" y1="608.2" x2="833.5" y2="608.2"/><line x1="827" y1="686" x2="833.5" y2="686"/>
<line x1="844" y1="687" x2="844" y2="693"/><line x1="902.7" y1="687" x2="902.7" y2="693"/><line x1="972" y1="687" x2="972" y2="693"/><line x1="1041" y1="687" x2="1041" y2="693"/><line x1="1110.5" y1="687" x2="1110.5" y2="693"/>
<line x1="1223.6" y1="455" x2="1223.6" y2="689"/><line x1="1223.6" y1="689" x2="1501.7" y2="689"/>
<line x1="1217" y1="455" x2="1223.6" y2="455"/><line x1="1217" y1="532.7" x2="1223.6" y2="532.7"/><line x1="1217" y1="610.3" x2="1223.6" y2="610.3"/><line x1="1217" y1="688" x2="1223.6" y2="688"/>
<line x1="1233" y1="689" x2="1233" y2="695"/><line x1="1293" y1="689" x2="1293" y2="695"/><line x1="1362" y1="689" x2="1362" y2="695"/><line x1="1432.5" y1="689" x2="1432.5" y2="695"/><line x1="1501.7" y1="689" x2="1501.7" y2="695"/>
</g>
<g font-size="24" text-anchor="end">
<text x="821" y="461">15</text><text x="821" y="538.5">10</text><text x="821" y="616.2">5</text><text x="821" y="694">0</text>
<text x="1210" y="463">15</text><text x="1210" y="540.7">10</text><text x="1210" y="618.3">5</text><text x="1210" y="696">0</text>
</g>
<g font-size="24" text-anchor="middle">
<text x="844" y="715">-2</text><text x="902.7" y="715">0</text><text x="972" y="715">2</text><text x="1041" y="715">4</text><text x="1110.5" y="715">6</text>
<text x="1233" y="717">-2</text><text x="1293" y="717">0</text><text x="1362" y="717">2</text><text x="1432.5" y="717">4</text><text x="1501.7" y="717">6</text>
</g>
<text x="939" y="737" font-size="26" textLength="89.5" lengthAdjust="spacingAndGlyphs">Time (s)</text>
<text x="1328.6" y="738" font-size="26" textLength="89.5" lengthAdjust="spacingAndGlyphs">Time (s)</text>
<text transform="translate(783,574) rotate(-90)" font-size="25" text-anchor="middle" textLength="58" lengthAdjust="spacingAndGlyphs">Trails</text>
<text transform="translate(1172,575) rotate(-90)" font-size="25" text-anchor="middle" textLength="58" lengthAdjust="spacingAndGlyphs">Trails</text>
<rect x="1583.6" y="530" width="38" height="138" fill="url(#cbar)"/>
<line x1="1564" y1="668" x2="1564" y2="552" stroke="#111" stroke-width="3"/>
<polygon points="1564,533 1555.5,559 1572.5,559" fill="#111"/>
<text x="1568" y="516" font-size="28" textLength="54" lengthAdjust="spacingAndGlyphs">max</text>
<text x="1571" y="698" font-size="28" textLength="46" lengthAdjust="spacingAndGlyphs">min</text>

<!-- ============ PANEL E ============ -->
<g stroke="#111" stroke-width="1.6">
<line x1="1796.7" y1="469" x2="1796.7" y2="671.7"/><line x1="1796.7" y1="671.7" x2="2001.7" y2="671.7"/>
<line x1="1790.5" y1="469" x2="1796.7" y2="469"/><line x1="1790.5" y1="536.7" x2="1796.7" y2="536.7"/><line x1="1790.5" y1="604.3" x2="1796.7" y2="604.3"/><line x1="1790.5" y1="671.7" x2="1796.7" y2="671.7"/>
<line x1="1847.3" y1="671.7" x2="1847.3" y2="678"/><line x1="1950" y1="671.7" x2="1950" y2="678"/>
<line x1="1845" y1="501.7" x2="1950" y2="501.7"/>
</g>
<g font-size="25" text-anchor="end">
<text x="1787" y="477">1.5</text><text x="1787" y="545">1.0</text><text x="1787" y="612.5">0.5</text><text x="1787" y="680">0.0</text>
</g>
<text x="1900" y="498" font-size="16" text-anchor="middle">**</text>
<text x="1931.7" y="486.7" font-size="25" textLength="103" lengthAdjust="spacingAndGlyphs"><tspan font-style="italic">p</tspan>=0.0064</text>
<text x="1851.7" y="705" font-size="25" text-anchor="middle">open</text>
<text x="1955" y="705" font-size="25" text-anchor="middle">closed</text>
<text transform="translate(1730,558) rotate(-90)" font-size="25" text-anchor="middle" textLength="163" lengthAdjust="spacingAndGlyphs">Average (dF/F)</text>
<g stroke="#111" stroke-width="1.4">
<line x1="1847.3" y1="536.7" x2="1950" y2="536.7"/><line x1="1847.3" y1="542.1" x2="1950" y2="631.2"/><line x1="1847.3" y1="552.9" x2="1950" y2="604.2"/><line x1="1847.3" y1="558.3" x2="1950" y2="624.5"/><line x1="1847.3" y1="563.7" x2="1950" y2="635.3"/><line x1="1847.3" y1="570.5" x2="1950" y2="571.8"/><line x1="1847.3" y1="574.5" x2="1950" y2="601.5"/><line x1="1847.3" y1="574.5" x2="1950" y2="612.3"/><line x1="1847.3" y1="594.7" x2="1950" y2="638"/><line x1="1847.3" y1="610.9" x2="1950" y2="626.6"/>
</g>
<g fill="#f3dced" stroke="#111" stroke-width="1.5">
<rect x="1841.3" y="528.2" width="12" height="17"/><rect x="1841.3" y="533.6" width="12" height="17"/><rect x="1841.3" y="544.4" width="12" height="17"/><rect x="1841.3" y="549.8" width="12" height="17"/><rect x="1841.3" y="555.2" width="12" height="17"/><rect x="1841.3" y="562" width="12" height="17"/><rect x="1841.3" y="566" width="12" height="17"/><rect x="1841.3" y="586.2" width="12" height="17"/><rect x="1841.3" y="602.4" width="12" height="17"/>
</g>
<g fill="#b9bdf3" stroke="#111" stroke-width="1.5">
<rect x="1944" y="528.2" width="12" height="17"/><rect x="1944" y="563.3" width="12" height="17"/><rect x="1944" y="593" width="12" height="17"/><rect x="1944" y="595.7" width="12" height="17"/><rect x="1944" y="603.8" width="12" height="17"/><rect x="1944" y="616" width="12" height="17"/><rect x="1944" y="622.7" width="12" height="17"/><rect x="1944" y="626.8" width="12" height="17"/><rect x="1944" y="629.5" width="12" height="17"/><rect x="1944" y="633.5" width="12" height="17"/>
</g>

<!-- ============ PANEL F ============ -->
<g fill="#fff" stroke="#111" stroke-width="2">
<rect x="18.5" y="807.3" width="371.5" height="43.4"/><rect x="398.5" y="807.3" width="371.5" height="43.4"/><rect x="774" y="807.3" width="372" height="43.4"/><rect x="1154" y="807.3" width="372" height="43.4"/>
</g>
<text x="202" y="840" font-size="28" font-style="italic" text-anchor="middle" style="fill:#eba024">Nr5a1<tspan font-size="16" dy="-12">+</tspan></text>
<text x="606" y="840" font-size="28" font-style="italic" text-anchor="middle" style="fill:#d21a1a">Camk2a<tspan font-size="16" dy="-12">+</tspan></text>
<text x="967" y="838" font-size="28" font-style="italic" text-anchor="middle" style="fill:#2f74c8">DAPI</text>
<text x="1344" y="838" font-size="28" font-style="italic" text-anchor="middle">Merge</text>

<g transform="translate(18.5,858.7)" clip-path="url(#clipF)">
<rect width="372" height="348" fill="#000"/>
<use href="#cellsA" fill="none" stroke="#f2cc98" stroke-width="1.5" stroke-dasharray="6 4"/>
<g fill="#e4e626" filter="url(#glow)">
<circle cx="89" cy="9.7" r="4"/><circle cx="21.5" cy="26" r="2"/><circle cx="229" cy="44" r="4"/><circle cx="226.5" cy="74.7" r="3"/><circle cx="331.5" cy="33" r="3"/><circle cx="314" cy="68" r="5"/><circle cx="326.5" cy="78" r="3"/><circle cx="31.5" cy="56" r="2.5"/><circle cx="129" cy="121" r="3"/><circle cx="146.5" cy="121" r="3.5"/><circle cx="31.5" cy="128" r="3"/><circle cx="41.5" cy="131" r="2.5"/><circle cx="211.5" cy="141" r="3.5"/><circle cx="209" cy="155" r="2.5"/><circle cx="299" cy="131" r="2.5"/><circle cx="286.5" cy="155" r="2.5"/><circle cx="364" cy="184.7" r="2.5"/><circle cx="366.5" cy="154.7" r="2.5"/><circle cx="46.5" cy="208" r="5"/><circle cx="56.5" cy="211" r="4"/><circle cx="36.5" cy="214.7" r="3"/><circle cx="81.5" cy="188" r="2.5"/><circle cx="104" cy="196" r="2.5"/><circle cx="191.5" cy="188" r="2"/><circle cx="209" cy="204.7" r="2.5"/><circle cx="156.5" cy="228" r="2"/><circle cx="76.5" cy="263" r="2.5"/><circle cx="71.5" cy="288" r="2"/><circle cx="79" cy="316" r="2"/><circle cx="301.5" cy="288" r="2.5"/><circle cx="319" cy="291" r="2.5"/><circle cx="189" cy="334.7" r="2.5"/><circle cx="211.5" cy="304.7" r="2"/><circle cx="50" cy="218" r="3"/><circle cx="60" cy="225" r="2"/>
</g>
<line x1="277.5" y1="325.3" x2="351.5" y2="325.3" stroke="#888" stroke-width="2"/>
</g>
<g transform="translate(398.5,858.7)" clip-path="url(#clipF)">
<rect width="372" height="348" fill="#000"/>
<use href="#cellsB" fill="none" stroke="#e82828" stroke-width="1.8" stroke-dasharray="7 4"/>
<g fill="#f02a2a" filter="url(#glow)">
<circle cx="59" cy="194.7" r="8"/><circle cx="54" cy="186" r="5"/><circle cx="136.5" cy="201" r="8"/><circle cx="146.5" cy="211" r="6"/><circle cx="128" cy="195" r="4"/><circle cx="199" cy="136" r="7"/><circle cx="321.5" cy="31" r="6"/><circle cx="326.5" cy="44.7" r="5"/><circle cx="316" cy="22" r="4"/><circle cx="249" cy="54.7" r="4"/><circle cx="214" cy="48" r="3"/><circle cx="116.5" cy="128" r="4"/><circle cx="131.5" cy="118" r="4"/><circle cx="154" cy="148" r="3"/><circle cx="11.5" cy="124.7" r="5"/><circle cx="16.5" cy="21.3" r="2.5"/><circle cx="116.5" cy="14.7" r="2.5"/><circle cx="184" cy="11.3" r="2.5"/><circle cx="336.5" cy="91" r="3"/><circle cx="29" cy="154.7" r="3"/><circle cx="81.5" cy="281" r="3"/><circle cx="66.5" cy="294.7" r="3"/><circle cx="206.5" cy="318" r="3"/><circle cx="286.5" cy="321" r="3"/><circle cx="306.5" cy="271" r="2.5"/><circle cx="106.5" cy="254.7" r="3"/><circle cx="169" cy="251" r="2.5"/><circle cx="226.5" cy="188" r="3"/><circle cx="271.5" cy="151" r="2.5"/><circle cx="311.5" cy="188" r="2.5"/><circle cx="90" cy="170" r="3"/><circle cx="40" cy="230" r="3"/><circle cx="180" cy="100" r="3"/><circle cx="350" cy="140" r="2.5"/><circle cx="250" cy="250" r="2.5"/><circle cx="160" cy="330" r="3"/>
</g>
<line x1="277.5" y1="325.3" x2="351.5" y2="325.3" stroke="#777" stroke-width="2"/>
</g>
<g transform="translate(774,858.7)" clip-path="url(#clipF)">
<rect width="372" height="348" fill="#02020a"/>
<use href="#cellsC" fill="url(#nuc)" opacity=".85"/>
<use href="#spots" fill="#2626c0" filter="url(#glow)"/>
<use href="#cellsC" fill="none" stroke="#6a9ee0" stroke-width="1.5" stroke-dasharray="6 4"/>
</g>
<g transform="translate(1154,858.7)" clip-path="url(#clipF)">
<rect width="372" height="348" fill="#02020a"/>
<use href="#cellsC" fill="url(#nuc)" opacity=".85"/>
<use href="#spots" fill="#2626c0" filter="url(#glow)"/>
<use href="#cellsA" fill="none" stroke="#b4b4b4" stroke-width="1.5" stroke-dasharray="6 4"/>
<g fill="#f02626" filter="url(#glow)">
<circle cx="58.5" cy="198" r="7"/><circle cx="55" cy="188" r="5"/><circle cx="131" cy="201" r="7"/><circle cx="140" cy="210" r="5"/><circle cx="201" cy="138" r="6"/><circle cx="316" cy="34.7" r="5"/><circle cx="326" cy="48" r="4"/><circle cx="248.5" cy="54.7" r="4"/><circle cx="116" cy="128" r="4"/><circle cx="136" cy="131" r="4"/><circle cx="11" cy="124.7" r="5"/><circle cx="31" cy="48" r="3"/><circle cx="223.5" cy="48" r="3"/>
<circle cx="60" cy="20" r="2"/><circle cx="105" cy="15" r="2"/><circle cx="150" cy="10" r="2"/><circle cx="200" cy="30" r="2"/><circle cx="270" cy="40" r="2"/><circle cx="300" cy="60" r="2"/><circle cx="350" cy="90" r="2"/><circle cx="340" cy="120" r="2"/><circle cx="290" cy="110" r="2"/><circle cx="260" cy="100" r="2"/><circle cx="180" cy="80" r="2"/><circle cx="150" cy="60" r="2"/><circle cx="90" cy="100" r="2"/><circle cx="60" cy="150" r="2"/><circle cx="100" cy="160" r="2"/><circle cx="170" cy="170" r="2"/><circle cx="230" cy="190" r="2"/><circle cx="250" cy="220" r="2"/><circle cx="200" cy="240" r="2"/><circle cx="150" cy="250" r="2"/><circle cx="100" cy="270" r="2"/><circle cx="60" cy="290" r="2"/><circle cx="30" cy="320" r="2"/><circle cx="120" cy="320" r="2"/><circle cx="180" cy="300" r="2"/><circle cx="240" cy="290" r="2"/><circle cx="290" cy="300" r="2"/><circle cx="330" cy="250" r="2"/><circle cx="360" cy="200" r="2"/><circle cx="20" cy="200" r="2"/><circle cx="80" cy="230" r="2"/><circle cx="220" cy="120" r="2"/><circle cx="160" cy="140" r="2"/><circle cx="270" cy="160" r="2"/><circle cx="310" cy="190" r="2"/><circle cx="210" cy="335" r="2"/><circle cx="255" cy="338" r="2"/>
</g>
<g fill="#e8e820" filter="url(#glow)">
<circle cx="91" cy="8" r="4"/><circle cx="231" cy="43" r="3.5"/><circle cx="316" cy="68" r="4"/><circle cx="331" cy="31" r="3"/><circle cx="46" cy="211" r="4.5"/><circle cx="52" cy="218" r="3.5"/><circle cx="31" cy="128" r="3"/><circle cx="146" cy="121" r="3"/><circle cx="140" cy="118" r="2.5"/><circle cx="301" cy="131" r="2.5"/><circle cx="366" cy="175" r="2.5"/><circle cx="76" cy="291" r="2"/><circle cx="200" cy="190" r="2"/><circle cx="215" cy="210" r="2"/><circle cx="40" cy="120" r="2.5"/>
</g>
<line x1="278.5" y1="326.3" x2="353.5" y2="326.3" stroke="#fff" stroke-width="4"/>
</g>

<!-- ============ PANEL G ============ -->
<rect x="1589.3" y="808.3" width="214.7" height="42.4" fill="#babaf6"/>
<rect x="1810.7" y="808.3" width="215.3" height="42.4" fill="#d15646"/>
<rect x="1589.3" y="862.7" width="214.7" height="42.6" fill="#ecdc74"/>
<rect x="1810.7" y="862.7" width="215.3" height="42.6" fill="#b6d898"/>
<g font-size="24" font-style="italic">
<text x="1598" y="840.7">Camk2a<tspan font-size="14" dy="-9">+</tspan><tspan dy="9"> ; Nr5a1</tspan><tspan font-size="14" dy="-9">+</tspan></text>
<text x="1821.7" y="840.7">Camk2a<tspan font-size="14" dy="-9">+</tspan><tspan dy="9"> ; Nr5a1</tspan><tspan font-size="14" dy="-9">-</tspan></text>
<text x="1600" y="895">Camk2a<tspan font-size="14" dy="-9">-</tspan><tspan dy="9"> ; Nr5a1</tspan><tspan font-size="14" dy="-9">+</tspan></text>
<text x="1823" y="895">Camk2a<tspan font-size="14" dy="-9">-</tspan><tspan dy="9"> ; Nr5a1</tspan><tspan font-size="14" dy="-9">-</tspan></text>
</g>
<path d="M1639,1056 A165,87 0 0 0 1969,1056 L1969,1123 A165,87 0 0 1 1639,1123 Z" fill="url(#side)"/>
<path d="M1803,1052 L1656.5,1017 A165,87 0 1 0 1804,969 Z" fill="#b9b9f7"/>
<path d="M1803,1052 L1804,969 A165,87 0 0 0 1778.2,970.1 Z" fill="#d04a3a"/>
<path d="M1803,1052 L1778.2,970.1 A165,87 0 0 0 1663,1010.8 Z" fill="#b3d88f"/>
<path d="M1803,1052 L1663,1010.8 A165,87 0 0 0 1656.5,1017 Z" fill="#e2d25e"/>
<line x1="1795" y1="966" x2="1795" y2="952" stroke="#d04a3a" stroke-width="2"/>
<polygon points="1795,945 1791,953 1799,953" fill="#d04a3a"/>
<line x1="1668" y1="1005" x2="1659" y2="990" stroke="#e0c840" stroke-width="2"/>
<polygon points="1656,985 1655.5,994 1662.5,990" fill="#e0c840"/>
<g font-size="27">
<text x="1780" y="940" textLength="58" lengthAdjust="spacingAndGlyphs">2.5%</text>
<text x="1638" y="978" textLength="56" lengthAdjust="spacingAndGlyphs">1.3%</text>
<text x="1721" y="1012" textLength="71" lengthAdjust="spacingAndGlyphs">13.8%</text>
<text x="1778" y="1099" textLength="74" lengthAdjust="spacingAndGlyphs">82.4%</text>
</g>
</svg>
</body></html>
